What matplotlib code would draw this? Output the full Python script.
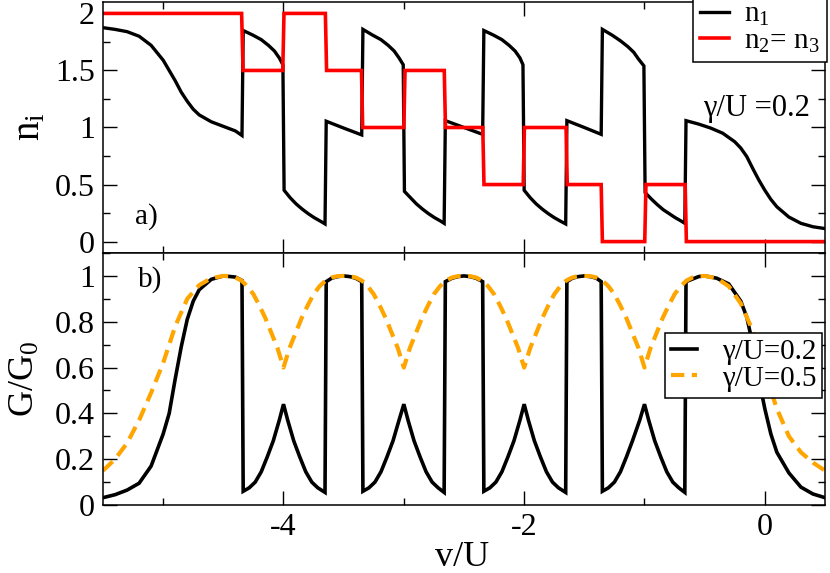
import matplotlib
matplotlib.use("Agg")
import matplotlib.pyplot as plt
from matplotlib.ticker import MultipleLocator, FuncFormatter
from matplotlib.lines import Line2D
from matplotlib.font_manager import FontProperties

SERIF = ['Liberation Serif', 'DejaVu Serif']
plt.rcParams['font.family'] = SERIF
plt.rcParams['mathtext.fontset'] = 'custom'
plt.rcParams['mathtext.rm'] = 'Liberation Serif'
plt.rcParams['mathtext.it'] = 'Liberation Serif:italic'
plt.rcParams['axes.unicode_minus'] = False

# ---------------- data: panel a) occupations ----------------
n1_x = [-5.5, -5.4, -5.3, -5.2, -5.1, -5.0, -4.95, -4.9, -4.85, -4.8, -4.75, -4.7, -4.6, -4.5, -4.4, -4.345,
        -4.335, -4.255, -4.185, -4.125, -4.075, -4.035, -4.005,
        -3.995, -3.945, -3.895, -3.845, -3.795, -3.745, -3.695, -3.655,
        -3.645, -3.5, -3.35,
        -3.34, -3.26, -3.19, -3.13, -3.08, -3.04, -3.005,
        -2.995, -2.945, -2.895, -2.845, -2.795, -2.745, -2.695, -2.665,
        -2.655, -2.5, -2.345,
        -2.335, -2.255, -2.185, -2.125, -2.075, -2.035, -2.01,
        -2.0, -1.95, -1.9, -1.85, -1.8, -1.75, -1.7, -1.655,
        -1.645, -1.5, -1.36,
        -1.35, -1.27, -1.2, -1.14, -1.09, -1.05, -1.005,
        -0.995, -0.945, -0.895, -0.845, -0.795, -0.745, -0.695, -0.665,
        -0.655, -0.55, -0.45, -0.35, -0.25, -0.2, -0.15, -0.1, -0.05, 0.0, 0.05, 0.1, 0.2, 0.3, 0.4, 0.5]
n1_y = [1.875, 1.86, 1.84, 1.80, 1.72, 1.59, 1.50, 1.41, 1.31, 1.23, 1.16, 1.11, 1.05, 1.01, 0.97, 0.93,
        1.85, 1.81, 1.77, 1.72, 1.67, 1.61, 1.55,
        0.45, 0.385, 0.33, 0.285, 0.245, 0.21, 0.18, 0.155,
        1.055, 0.995, 0.935,
        1.86, 1.81, 1.77, 1.72, 1.67, 1.61, 1.55,
        0.44, 0.385, 0.33, 0.285, 0.245, 0.21, 0.18, 0.16,
        1.06, 1.0, 0.94,
        1.85, 1.81, 1.77, 1.72, 1.67, 1.61, 1.55,
        0.45, 0.385, 0.33, 0.285, 0.245, 0.21, 0.18, 0.155,
        1.06, 1.0, 0.94,
        1.86, 1.81, 1.76, 1.71, 1.66, 1.60, 1.54,
        0.43, 0.375, 0.325, 0.28, 0.245, 0.21, 0.18, 0.16,
        1.06, 1.03, 0.995, 0.95, 0.875, 0.82, 0.745, 0.64, 0.54, 0.45, 0.37, 0.305, 0.215, 0.16, 0.13, 0.114]

n23_x = [-5.5, -4.348, -4.336, -4.006, -3.996, -3.652, -3.642, -3.352, -3.342, -3.0, -2.99,
         -2.664, -2.654, -2.344, -2.334, -2.008, -1.998, -1.652, -1.642, -1.36, -1.35,
         -0.998, -0.988, -0.662, -0.652, 0.5]
n23_y = [2.0, 2.0, 1.5, 1.5, 2.0, 2.0, 1.5, 1.5, 1.0, 1.0, 1.5,
         1.5, 1.0, 1.0, 0.5, 0.5, 1.0, 1.0, 0.5, 0.5, 0.0,
         0.0, 0.5, 0.5, 0.0, 0.0]

# ---------------- data: panel b) conductance ----------------
g02_x = [-5.5, -5.4, -5.3, -5.2, -5.1, -5.0, -4.95, -4.9, -4.85, -4.8, -4.75, -4.7, -4.6, -4.5, -4.4, -4.345,
         -4.335, -4.285, -4.235, -4.185, -4.135, -4.085, -4.035, -4.0, -3.965, -3.915, -3.865, -3.815, -3.765, -3.715, -3.655,
         -3.645, -3.6, -3.55, -3.5, -3.45, -3.4, -3.35,
         -3.34, -3.29, -3.24, -3.19, -3.14, -3.09, -3.04, -3.0, -2.965, -2.915, -2.865, -2.815, -2.765, -2.715, -2.665,
         -2.655, -2.6, -2.55, -2.5, -2.45, -2.4, -2.345,
         -2.335, -2.285, -2.235, -2.185, -2.135, -2.085, -2.035, -2.0, -1.965, -1.915, -1.865, -1.815, -1.765, -1.715, -1.655,
         -1.645, -1.6, -1.55, -1.5, -1.45, -1.4, -1.36,
         -1.35, -1.3, -1.25, -1.2, -1.15, -1.1, -1.04, -1.0, -0.965, -0.915, -0.865, -0.815, -0.765, -0.715, -0.665,
         -0.655, -0.55, -0.5, -0.4, -0.3, -0.2, -0.15, -0.1, -0.05, 0.0, 0.05, 0.1, 0.2, 0.3, 0.4, 0.5]
g02_y = [0.032, 0.045, 0.065, 0.095, 0.17, 0.31, 0.40, 0.55, 0.69, 0.81, 0.89, 0.94, 0.985, 1.0, 0.995, 0.98,
         0.06, 0.075, 0.10, 0.145, 0.21, 0.28, 0.37, 0.44, 0.37, 0.28, 0.21, 0.145, 0.10, 0.075, 0.055,
         0.975, 0.99, 0.997, 1.0, 0.997, 0.99, 0.975,
         0.06, 0.075, 0.10, 0.145, 0.21, 0.28, 0.37, 0.44, 0.37, 0.28, 0.21, 0.145, 0.10, 0.075, 0.055,
         0.975, 0.99, 0.997, 1.0, 0.997, 0.99, 0.975,
         0.06, 0.075, 0.10, 0.145, 0.21, 0.28, 0.37, 0.44, 0.37, 0.28, 0.21, 0.145, 0.10, 0.075, 0.055,
         0.975, 0.99, 0.997, 1.0, 0.997, 0.99, 0.975,
         0.06, 0.075, 0.10, 0.145, 0.21, 0.28, 0.37, 0.44, 0.37, 0.28, 0.21, 0.145, 0.10, 0.075, 0.055,
         0.975, 0.997, 1.0, 0.99, 0.965, 0.89, 0.82, 0.70, 0.55, 0.42, 0.31, 0.23, 0.14, 0.078, 0.048, 0.032]

g05_x = [-5.5, -5.4, -5.3, -5.2, -5.1, -5.0, -4.9, -4.8, -4.7, -4.6, -4.5,
         -4.45, -4.4, -4.35, -4.3, -4.25, -4.2, -4.15, -4.1, -4.05, -4.0,
         -3.95, -3.9, -3.85, -3.8, -3.75, -3.7, -3.65, -3.6, -3.55, -3.5,
         -3.45, -3.4, -3.35, -3.3, -3.25, -3.2, -3.15, -3.1, -3.05, -3.0,
         -2.95, -2.9, -2.85, -2.8, -2.75, -2.7, -2.65, -2.6, -2.55, -2.5,
         -2.45, -2.4, -2.35, -2.3, -2.25, -2.2, -2.15, -2.1, -2.05, -2.0,
         -1.95, -1.9, -1.85, -1.8, -1.75, -1.7, -1.65, -1.6, -1.55, -1.5,
         -1.45, -1.4, -1.35, -1.3, -1.25, -1.2, -1.15, -1.1, -1.05, -1.0,
         -0.95, -0.9, -0.85, -0.8, -0.75, -0.7, -0.65, -0.6, -0.55, -0.5,
         -0.4, -0.3, -0.2, -0.1, 0.0, 0.1, 0.2, 0.3, 0.4, 0.5]
g05_y = [0.15, 0.20, 0.27, 0.37, 0.49, 0.62, 0.78, 0.90, 0.96, 0.99, 1.0,
         0.999, 0.993, 0.98, 0.955, 0.92, 0.87, 0.815, 0.75, 0.685, 0.60,
         0.685, 0.75, 0.815, 0.87, 0.92, 0.955, 0.98, 0.993, 0.999, 1.0,
         0.999, 0.993, 0.98, 0.955, 0.92, 0.87, 0.815, 0.75, 0.685, 0.60,
         0.685, 0.75, 0.815, 0.87, 0.92, 0.955, 0.98, 0.993, 0.999, 1.0,
         0.999, 0.993, 0.98, 0.955, 0.92, 0.87, 0.815, 0.75, 0.685, 0.60,
         0.685, 0.75, 0.815, 0.87, 0.92, 0.955, 0.98, 0.993, 0.999, 1.0,
         0.999, 0.993, 0.98, 0.955, 0.92, 0.87, 0.815, 0.75, 0.685, 0.60,
         0.685, 0.75, 0.815, 0.87, 0.92, 0.955, 0.98, 0.993, 0.999, 1.0,
         0.99, 0.955, 0.88, 0.76, 0.58, 0.42, 0.30, 0.23, 0.185, 0.15]

labels_top = [r'$\mathregular{n_1}$', r'$\mathregular{n_2}$= $\mathregular{n_3}$']
labels_bot = ['γ/U=0.2', 'γ/U=0.5']
annot_gamma = 'γ/U =0.2'

# ---------------- figure ----------------
W, H = 830, 573
fig = plt.figure(figsize=(W / 100, H / 100), dpi=100)
L, R = 103 / W, 825 / W
ax1 = fig.add_axes([L, 1 - 253 / H, R - L, (253 - 2) / H])
ax2 = fig.add_axes([L, 1 - 505 / H, R - L, (505 - 253) / H])

black, red, orange = '#000000', '#ff0000', '#ffa500'

ax1.plot(n1_x, n1_y, color=black, lw=2.4, solid_joinstyle='miter')
ax1.plot(n23_x, n23_y, color=red, lw=2.6, solid_joinstyle='miter')

ax2.plot(g02_x, g02_y, color=black, lw=2.6, label=labels_bot[0], solid_joinstyle='miter')
ax2.plot(g05_x, g05_y, color=orange, lw=3.0, dashes=(3.2, 1.8), label=labels_bot[1])

tick_fs = 23
fmt = FuncFormatter(lambda v, p: '%g' % v)
for ax in (ax1, ax2):
    ax.set_xlim(-5.5, 0.5)
    ax.xaxis.set_major_locator(MultipleLocator(2))
    ax.xaxis.set_minor_locator(MultipleLocator(1))
    ax.tick_params(which='both', direction='in', top=True, right=True, width=1.0, colors='black')
    ax.tick_params(which='major', length=10, labelsize=tick_fs, pad=6)
    ax.tick_params(which='minor', length=5)
    for s in ax.spines.values():
        s.set_linewidth(1.1)
    ax.xaxis.set_major_formatter(fmt)
    ax.yaxis.set_major_formatter(fmt)

ax1.set_ylim(-0.1, 2.1)
ax1.yaxis.set_major_locator(MultipleLocator(0.5))
ax1.yaxis.set_minor_locator(MultipleLocator(0.25))
ax1.tick_params(labelbottom=False)

ax2.set_ylim(0, 1.1)
ax2.yaxis.set_major_locator(MultipleLocator(0.2))
ax2.yaxis.set_minor_locator(MultipleLocator(0.1))

# labels
fig.text(30 / W, 1 - 127 / H, r'$\mathregular{n_i}$', fontsize=28, rotation=90, ha='center', va='center', family=SERIF)
fig.text(25 / W, 1 - 379 / H, r'$\mathregular{G/G_0}$', fontsize=26, rotation=90, ha='center', va='center', family=SERIF)
fig.text(462 / W, 1 - 566 / H, 'v/U', fontsize=26, ha='center', va='baseline', family=SERIF)

ax1.text(-5.23, 0.22, 'a)', fontsize=21, ha='left', va='center', family=SERIF)
ax2.text(-5.21, 0.985, 'b)', fontsize=21, ha='left', va='center', family=SERIF)
ax1.text(-0.515, 1.17, annot_gamma, fontsize=22, ha='left', va='center', family=SERIF)

# legends
leg_fp = FontProperties(family=SERIF, size=21)
h_top = [Line2D([], [], color=black, lw=2.4), Line2D([], [], color=red, lw=2.6)]
leg1 = ax1.legend(h_top, labels_top, loc='upper right', bbox_to_anchor=(827 / W, 1 + 6 / H),
                  bbox_transform=fig.transFigure, prop=leg_fp, frameon=True, fancybox=False,
                  edgecolor='black', framealpha=1, borderpad=0.25, handlelength=1.0,
                  handletextpad=0.5, labelspacing=0.0, borderaxespad=0)
leg1.get_frame().set_linewidth(1.1)

leg2 = ax2.legend(loc='upper right', bbox_to_anchor=(822 / W, 1 - 333 / H),
                  bbox_transform=fig.transFigure, prop=leg_fp, frameon=True, fancybox=False,
                  edgecolor='black', framealpha=1, borderpad=0.2, handlelength=0.9,
                  handletextpad=0.85, labelspacing=0.0, borderaxespad=0)
leg2.get_frame().set_linewidth(1.1)

for ax in (ax1, ax2):
    for lab in ax.get_xticklabels() + ax.get_yticklabels():
        lab.set_fontfamily(SERIF)
        lab.set_fontsize(tick_fs)

fig.savefig('out.png', dpi=100)
